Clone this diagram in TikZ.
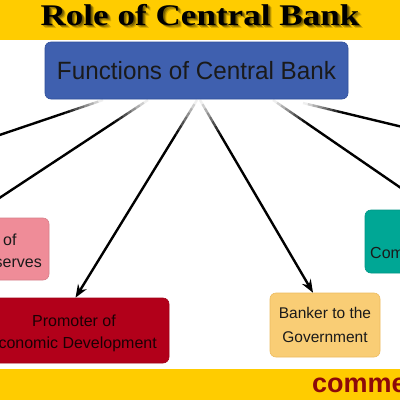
\documentclass[tikz,border=0pt]{standalone}
\usepackage{fontspec}
\setmainfont{Liberation Sans}
\newfontfamily\titlefont{Liberation Serif}
\usetikzlibrary{arrows.meta,calc}
\definecolor{banner}{HTML}{FFCC00}
\definecolor{fblue}{HTML}{3F60AF}
\definecolor{fblueb}{HTML}{2F4F9A}
\definecolor{fpink}{HTML}{EF8C98}
\definecolor{fred}{HTML}{B2001A}
\definecolor{fyel}{HTML}{F9CD75}
\definecolor{fyelb}{HTML}{EDBB5F}
\definecolor{fteal}{HTML}{00A795}
\definecolor{fdark}{HTML}{8C0A0A}
\definecolor{ftext}{HTML}{1A1A1A}
\newcommand\fadeline[2]{%
  \foreach \k in {0,...,7}{%
    \pgfmathsetmacro\myop{(\k+0.5)/8}
    \draw[conn, opacity=\myop] ($(#1)!\k*5pt!(#2)$) -- ($(#1)!\k*5pt+5pt!(#2)$);
  }
  \draw[conn,-{Stealth[length=13pt,width=10pt]}] ($(#1)!40pt!(#2)$) -- (#2);
}
\begin{document}
\begin{tikzpicture}[x=1pt,y=-1pt,
  conn/.style={line width=2.4pt, draw=black},
  fbox/.style={rounded corners=6pt, inner sep=0pt, line width=0.6pt},
  btxt/.style={text=ftext, font=\fontsize{16}{22}\selectfont, inner sep=0pt}]
\useasboundingbox (0,0) rectangle (400,400);
\clip (0,0) rectangle (400,400);
\fill[white] (0,0) rectangle (400,400);
% top banner
\fill[banner] (0,0) rectangle (400,40);
\foreach \dx/\o in {3.5/0.15,2.5/0.25,1.5/0.3}{
  \node[anchor=base, text=black, opacity=\o, inner sep=0pt] at (200+\dx,25+\dx) {\scalebox{1.17}[1]{\titlefont\bfseries\fontsize{30}{36}\selectfont Role of Central Bank}};
}
\node[anchor=base, text=black, inner sep=0pt] (title) at (200,25) {\scalebox{1.17}[1]{\titlefont\bfseries\fontsize{30}{36}\selectfont Role of Central Bank}};
% bottom banner
\fill[banner] (0,369) rectangle (400,400);
\node[anchor=base west, text=fdark, inner sep=0pt] (web) at (312,392) {\bfseries\fontsize{27}{30}\selectfont comme};
% central box
\node[fbox, fill=fblue, draw=fblueb, minimum width=303pt, minimum height=57pt, text=ftext, font=\fontsize{25}{30}\selectfont] (fcb) at (196.5,70.5) {\scalebox{0.97}[1]{Functions of Central Bank}};
% boxes
\node[fbox, fill=fpink, draw=fpink!90!black, minimum width=159pt, minimum height=62pt] (pink) at (-30.5,249) {};
\node[btxt, anchor=base west] (pinka) at (3,245) {of};
\node[btxt, anchor=base east] (pinkb) at (42,267) {serves};
\node[fbox, fill=fred, draw=fred!90!black, minimum width=187pt, minimum height=65pt] (red) at (75.5,330.5) {};
\node[btxt, anchor=base, text=black!85!fred] (reda) at (74,326) {Promoter of};
\node[btxt, anchor=base east, text=black!85!fred] (redb) at (157,348) {conomic Development};
\node[fbox, fill=fyel, draw=fyelb, minimum width=110pt, minimum height=64pt, align=center, text=ftext, font=\fontsize{15.5}{24}\selectfont] (bank) at (325,325) {Banker to the\\Government};
\node[fbox, fill=fteal, draw=fteal!90!black, minimum width=135pt, minimum height=63pt] (teal) at (432.5,241.5) {};
\node[btxt, anchor=base west] (teala) at (370,258) {Com};
% connectors
\coordinate (s1) at (103,100);
\coordinate (s2) at (148,100);
\coordinate (s3) at (197,100);
\coordinate (s4) at (200,100);
\coordinate (s5) at (273,100);
\coordinate (s6) at (303,103);
\coordinate (e1) at (-30,145);
\coordinate (e6) at (440,136);
\coordinate (e4) at ($(bank.north)+(-12,0)$);
\fadeline{s1}{e1}
\fadeline{s2}{pink.north}
\fadeline{s3}{red.north}
\fadeline{s4}{e4}
\fadeline{s5}{teal.north}
\fadeline{s6}{e6}
\end{tikzpicture}
\end{document}
